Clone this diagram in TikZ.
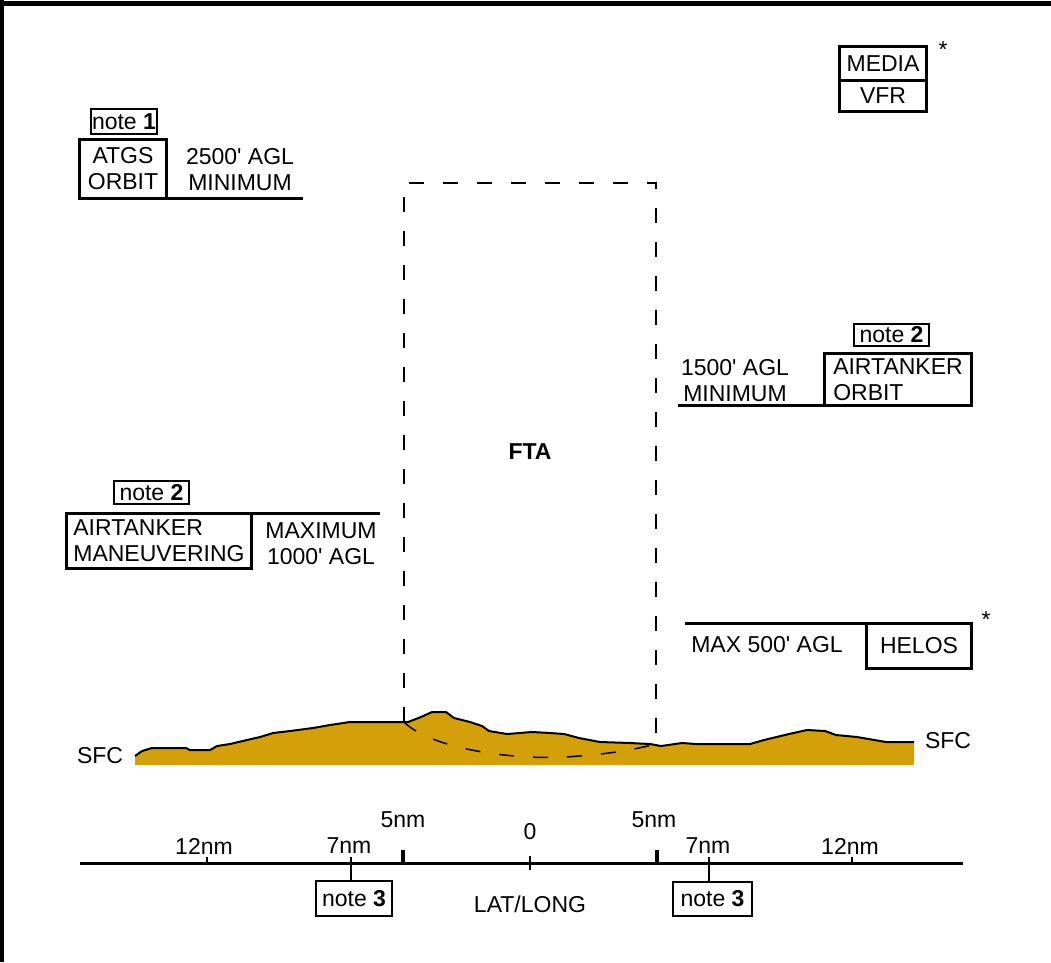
\documentclass[tikz,border=0pt]{standalone}
\usepackage{fontspec}
\setmainfont{Liberation Sans}
\usetikzlibrary{positioning}
\definecolor{Ochre}{RGB}{212,160,10}

\begin{document}
\begin{tikzpicture}[x=1pt,y=-1pt,
    plain/.style={font=\fontsize{23}{26}\selectfont,inner sep=0pt,align=center},
    heavybox/.style={draw,line width=3pt,inner sep=0pt,outer sep=0pt,
        font=\fontsize{23}{26}\selectfont,align=center},
    notebox/.style={draw,line width=2pt,inner sep=0pt,outer sep=0pt,
        font=\fontsize{23}{26}\selectfont},
    shelf/.style={line width=3pt},
    ftadash/.style={line width=2pt,dash pattern=on 15pt off 19pt}]
\useasboundingbox (0,0) rectangle (1051,962);
% frame
\draw[line width=5pt] (0,3) -- (1051,3);
\draw[line width=4pt] (2,0) -- (2,962);
% terrain
\def\ridge{(135,756) -- (142,751) -- (152,748) -- (186,748) -- (190,750) -- (210,750)
  -- (217,746) -- (230,744) -- (247,740) -- (260,737) -- (273,733) -- (290,731)
  -- (313,728) -- (330,725) -- (350,722) -- (404,722) -- (408,722) -- (421,717)
  -- (432,712) -- (446,712) -- (454,718) -- (470,722) -- (482,726) -- (489,731)
  -- (507,734) -- (532,732) -- (550,733) -- (564,734) -- (579,738) -- (600,742)
  -- (630,743) -- (650,744) -- (661,746) -- (682,743) -- (696,744) -- (750,744)
  -- (764,740) -- (789,734) -- (807,730) -- (825,731) -- (836,735) -- (857,737)
  -- (886,742) -- (914,742)}
\fill[Ochre] (135,765) -- \ridge -- (914,765) -- cycle;
\draw[line width=2pt] \ridge;
\node[plain] (sfcL) at (100,756) {SFC};
\node[plain] (sfcR) at (948,741) {SFC};
% FTA
\coordinate (ftaBL) at (404,722);
\coordinate (ftaTL) at (404,183);
\coordinate (ftaTR) at (656,183);
\coordinate (ftaBR) at (656,744);
\draw[ftadash] (ftaBL) -- (ftaTL) -- (ftaTR) -- (ftaBR);
\draw[ftadash,line width=1.5pt] (ftaBL) .. controls (430,748) and (510,760) .. (565,757)
    .. controls (615,754) and (640,748) .. (ftaBR);
\node[plain,font=\fontsize{23}{26}\selectfont\bfseries] (fta) at (530,452) {FTA};
% media
\node[heavybox,minimum width=87pt,minimum height=34pt] (media) at (883,63.5) {MEDIA};
\node[heavybox,minimum width=87pt,minimum height=31pt,below=0pt of media] (vfr) {VFR};
\node[plain] (mediastar) at (943,50) {*};
% ATGS
\node[heavybox,minimum width=87pt,minimum height=59pt] (atgs) at (123,169) {ATGS\\ORBIT};
\node[notebox,minimum width=66pt,minimum height=25pt] (note1) at (124,121.5) {note \textbf{1}};
\coordinate (atgsEnd) at (303,198.5);
\draw[shelf] (atgs.south east) -- (atgsEnd);
\node[plain] (atgsalt) at (240,170) {2500\textquotesingle{} AGL\\MINIMUM};
% airtanker orbit
\node[heavybox,align=left,minimum width=147pt,minimum height=52pt] (orbit) at (898,379.5) {AIRTANKER\\ORBIT};
\node[notebox,minimum width=75pt,minimum height=22pt] (note2R) at (891.5,335) {note \textbf{2}};
\coordinate (orbitEnd) at (678,405.5);
\draw[shelf] (orbit.south west) -- (orbitEnd);
\node[plain] (orbitalt) at (735,381) {1500\textquotesingle{} AGL\\MINIMUM};
% airtanker maneuvering
\node[heavybox,align=left,minimum width=185pt,minimum height=55pt] (manv) at (159,541) {AIRTANKER\\MANEUVERING};
\node[notebox,minimum width=75pt,minimum height=23pt] (note2L) at (151.5,492.5) {note \textbf{2}};
\coordinate (manvEnd) at (380,513.5);
\draw[shelf] (manv.north east) -- (manvEnd);
\node[plain] (manvalt) at (321,544) {MAXIMUM\\1000\textquotesingle{} AGL};
% helos
\node[heavybox,minimum width=105pt,minimum height=45pt] (helos) at (919,646) {HELOS};
\coordinate (helosEnd) at (685,623.5);
\draw[shelf] (helos.north west) -- (helosEnd);
\node[plain] (heloalt) at (767,645) {MAX 500\textquotesingle{} AGL};
\node[plain] (helostar) at (986,620) {*};
% distance scale
\coordinate (axL) at (80,863);
\coordinate (axR) at (963,863);
\draw[line width=3pt] (axL) -- (axR);
\draw[line width=4pt] (403,850) -- (403,863);
\draw[line width=4pt] (657,850) -- (657,863);
\draw[line width=1.5pt] (207,857) -- (207,863);
\draw[line width=1.5pt] (852,857) -- (852,863);
\draw[line width=1.5pt] (530,856) -- (530,870);
\node[plain] (l12L) at (204,846) {12nm};
\node[plain] (l7L) at (349,846) {7nm};
\node[plain] (l5L) at (403,820) {5nm};
\node[plain] (l0) at (530,832) {0};
\node[plain] (l5R) at (654,820) {5nm};
\node[plain] (l7R) at (708,846) {7nm};
\node[plain] (l12R) at (850,846) {12nm};
\node[plain] (latlong) at (530,904) {LAT/LONG};
\node[notebox,minimum width=76pt,minimum height=35pt] (note3L) at (354,898.5) {note \textbf{3}};
\node[notebox,minimum width=79pt,minimum height=34pt] (note3R) at (712.5,899) {note \textbf{3}};
\coordinate (t7L) at (351,857);
\coordinate (t7R) at (709,857);
\draw[line width=1.5pt] (t7L) -- (note3L.north -| t7L);
\draw[line width=1.5pt] (t7R) -- (note3R.north -| t7R);
\end{tikzpicture}
\end{document}
